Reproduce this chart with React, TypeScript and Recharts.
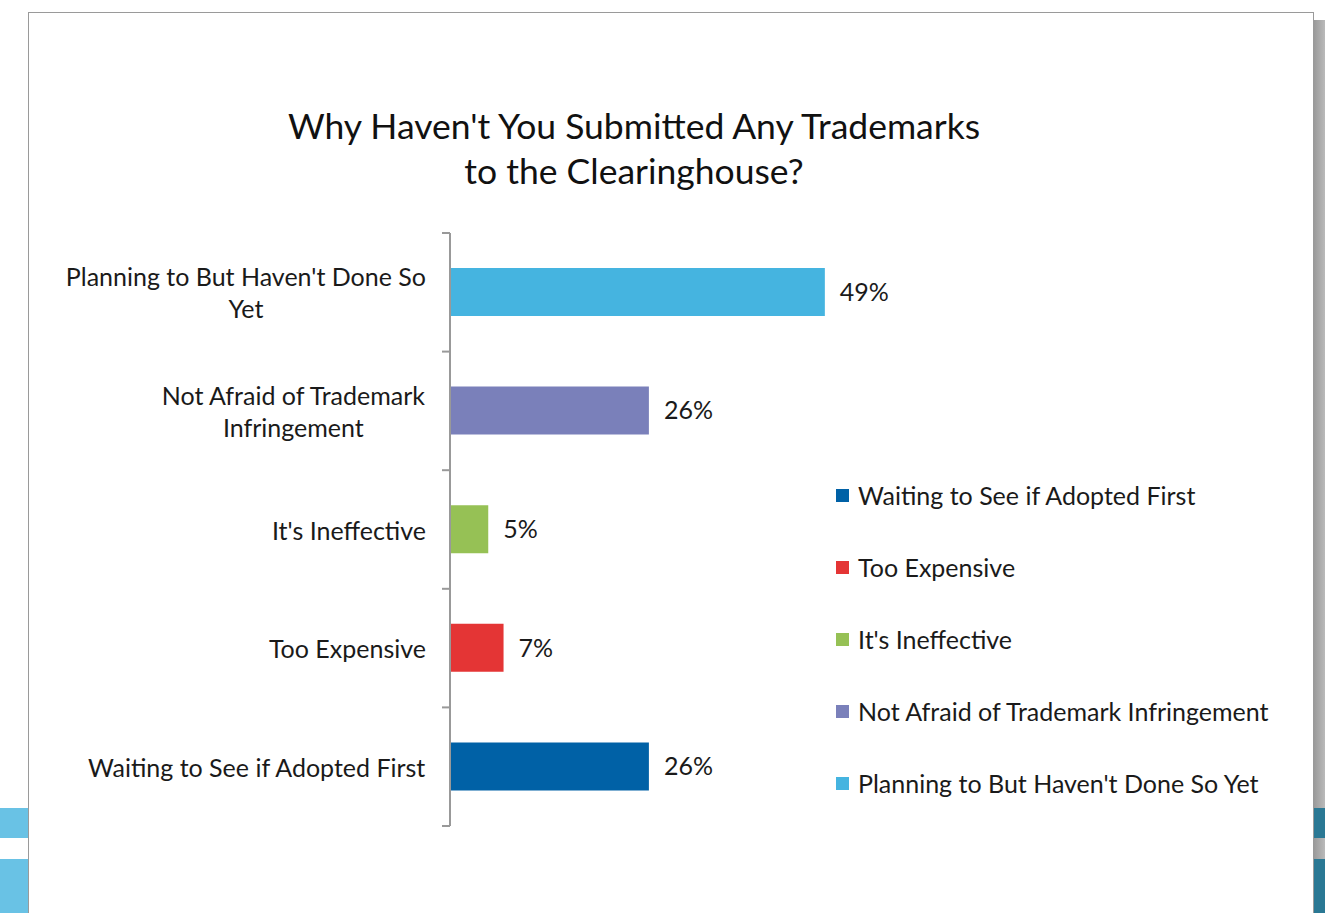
import React from 'react';
import { BarChart, Bar, XAxis, YAxis, Cell, LabelList } from 'recharts';

const categories = [
  "Planning to But Haven't Done So Yet",
  'Not Afraid of Trademark Infringement',
  "It's Ineffective",
  'Too Expensive',
  'Waiting to See if Adopted First',
];
const values = [49, 26, 5, 7, 26];
const colors = ['#45b4e0', '#7a80ba', '#96c155', '#e43535', '#0061a6'];
// how the axis labels wrap in the original
const tickLines = [
  ["Planning to But Haven't Done So", 'Yet'],
  ['Not Afraid of Trademark', 'Infringement'],
  ["It's Ineffective"],
  ['Too Expensive'],
  ['Waiting to See if Adopted First'],
];
// legend is listed bottom-up
const legendOrder = [4, 3, 2, 1, 0];

const FONT = 'Lato, "Open Sans", sans-serif';
const FS = 25;
const W = 1325;
const H = 913;
const PLOT_TOP = 233;
const PLOT_BOTTOM = 826;
const AXIS_X = 450;
const BAND = (PLOT_BOTTOM - PLOT_TOP) / categories.length;

const data = categories.map((name, i) => ({ name, value: values[i], idx: i }));

let ctx: CanvasRenderingContext2D | null = null;
const measure = (s: string, size: number) => {
  if (!ctx) ctx = document.createElement('canvas').getContext('2d');
  if (!ctx) return s.length * size * 0.5;
  ctx.font = `${size}px ${FONT}`;
  return ctx.measureText(s).width;
};

const CategoryTick = (props: any) => {
  const { y, payload, index } = props;
  const i = typeof index === 'number' ? index : categories.indexOf(payload.value);
  const lines = tickLines[i] || [payload.value];
  const right = 426;
  const widest = Math.max(...lines.map((l) => measure(l, FS)));
  const cx = right - widest / 2;
  const top = y - BAND / 2;
  return (
    <g>
      <line x1={AXIS_X - 8} x2={AXIS_X} y1={top} y2={top} stroke="#999" strokeWidth={2} />
      {i === categories.length - 1 && (
        <line x1={AXIS_X - 8} x2={AXIS_X} y1={top + BAND} y2={top + BAND} stroke="#999" strokeWidth={2} />
      )}
      <text
        x={cx}
        y={y - ((lines.length - 1) * 32) / 2}
        textAnchor="middle"
        fill="#1a1a1a"
        fontSize={FS}
        fontFamily={FONT}
        dominantBaseline="central"
      >
        {lines.map((l, k) => (
          <tspan key={k} x={cx} dy={k === 0 ? 0 : 32}>
            {l}
          </tspan>
        ))}
      </text>
    </g>
  );
};

export default function App() {
  return (
    <div style={{ position: 'fixed', left: 0, top: 0, width: W, height: H, overflow: 'hidden', background: '#fff' }}>
      {/* page decoration around the slide */}
      <div style={{ position: 'absolute', left: 0, top: 808, width: 30, height: 30, background: '#69c2e5' }} />
      <div style={{ position: 'absolute', left: 0, top: 859, width: 30, height: 60, background: '#69c2e5' }} />
      <div
        style={{
          position: 'absolute',
          left: 1314,
          top: 20,
          width: 12,
          height: 900,
          background: 'linear-gradient(to right, #9a9a9a, #bdbdbd)',
        }}
      />
      <div style={{ position: 'absolute', left: 1314, top: 808, width: 12, height: 30, background: '#2a7894' }} />
      <div style={{ position: 'absolute', left: 1314, top: 859, width: 12, height: 60, background: '#2a7894' }} />
      <div
        style={{
          position: 'absolute',
          left: 28,
          top: 12,
          width: 1286,
          height: 940,
          border: '1.5px solid #9a9a9a',
          background: '#fff',
          boxSizing: 'border-box',
        }}
      />
      <div
        style={{
          position: 'absolute',
          left: 284,
          width: 700,
          top: 103,
          textAlign: 'center',
          fontFamily: FONT,
          fontSize: 35.5,
          lineHeight: '45px',
          color: '#111',
        }}
      >
        Why Haven't You Submitted Any Trademarks
        <br />
        to the Clearinghouse?
      </div>
      <div style={{ position: 'absolute', left: 0, top: 0 }}>
        <BarChart
          width={W}
          height={H}
          data={data}
          layout="vertical"
          margin={{ top: PLOT_TOP, bottom: H - PLOT_BOTTOM, left: 0, right: W - AXIS_X - 459 }}
        >
          <XAxis type="number" domain={[0, 60]} hide />
          <YAxis
            type="category"
            dataKey="name"
            width={AXIS_X}
            axisLine={{ stroke: '#999', strokeWidth: 2 }}
            tickLine={false}
            tick={<CategoryTick />}
            interval={0}
          />
          <Bar dataKey="value" barSize={48} isAnimationActive={false}>
            {data.map((d) => (
              <Cell key={d.name} fill={colors[d.idx]} />
            ))}
            <LabelList
              dataKey="value"
              position="right"
              offset={15}
              formatter={(v: any) => `${v}%`}
              style={{ fontSize: FS, fontFamily: FONT, fill: '#1a1a1a' }}
            />
          </Bar>
        </BarChart>
      </div>
      <div style={{ position: 'absolute', left: 836, top: 459, fontFamily: FONT, fontSize: FS, color: '#1a1a1a' }}>
        {legendOrder.map((i) => (
          <div key={i} style={{ display: 'flex', alignItems: 'center', height: 72 }}>
            <span style={{ width: 13, height: 13, background: colors[i], marginRight: 9, display: 'inline-block' }} />
            <span>{categories[i]}</span>
          </div>
        ))}
      </div>
    </div>
  );
}
